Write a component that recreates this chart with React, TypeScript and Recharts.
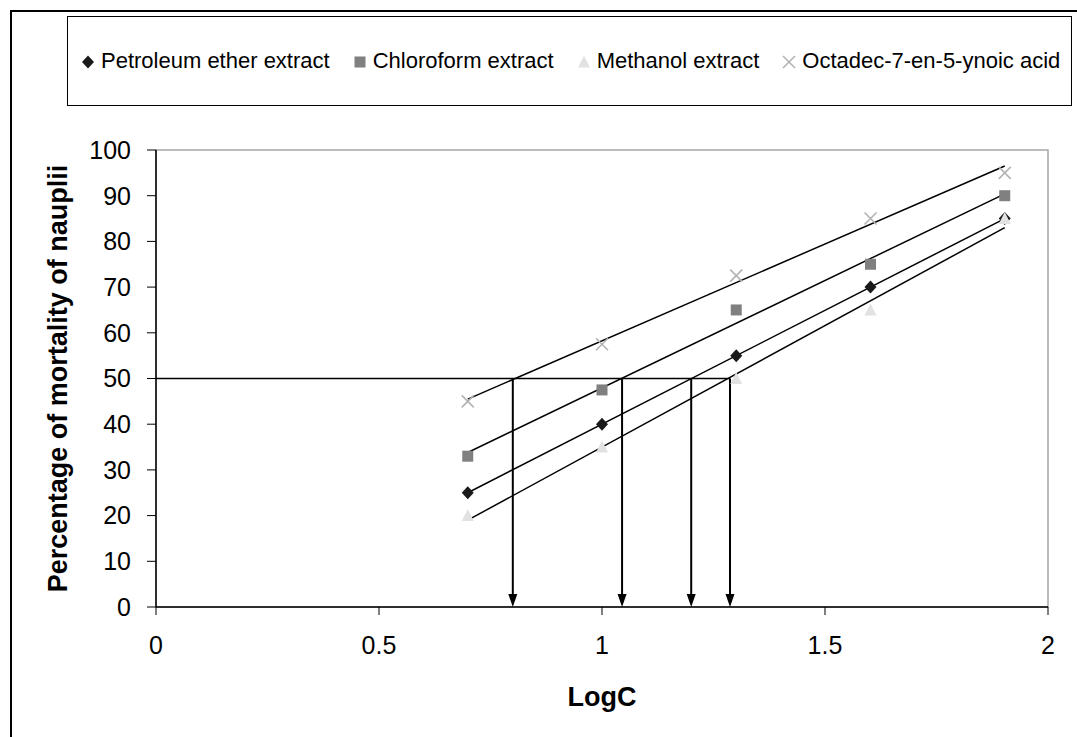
import React from 'react';
import {
  ComposedChart,
  Scatter,
  Line,
  XAxis,
  YAxis,
  ReferenceLine,
  ReferenceArea,
  Label,
} from 'recharts';

// log10 of the concentrations (5, 10, 20, 40, 80)
const logC = [0.699, 1.0, 1.301, 1.602, 1.903];

const petroleumEther = [25, 40, 55, 70, 85];
const chloroform = [33, 47.5, 65, 75, 90];
const methanol = [20, 35, 50, 65, 85];
const octadecenynoic = [45, 57.5, 72.5, 85, 95];

// LC50 read-offs (where each trend line crosses 50 %)
const lc50LogC = [0.8, 1.045, 1.2, 1.287];

const xTicks = [0, 0.5, 1, 1.5, 2];
const yTicks = [0, 10, 20, 30, 40, 50, 60, 70, 80, 90, 100];

const FONT = '"Liberation Sans", Arial, sans-serif';

const Diamond = ({ cx, cy }: any) => (
  <polygon
    points={`${cx},${cy - 6.5} ${cx + 6},${cy} ${cx},${cy + 6.5} ${cx - 6},${cy}`}
    fill="#1a1a1a"
  />
);
const Square = ({ cx, cy }: any) => (
  <rect x={cx - 5.5} y={cy - 5.5} width={11} height={11} fill="#808080" />
);
const Triangle = ({ cx, cy }: any) => (
  <polygon
    points={`${cx},${cy - 6.5} ${cx + 6},${cy + 5.5} ${cx - 6},${cy + 5.5}`}
    fill="#e2e2e2"
  />
);
const Cross = ({ cx, cy }: any) => (
  <g stroke="#b3b3b3" strokeWidth={1.6}>
    <line x1={cx - 6} y1={cy - 6} x2={cx + 6} y2={cy + 6} />
    <line x1={cx - 6} y1={cy + 6} x2={cx + 6} y2={cy - 6} />
  </g>
);

const series = [
  { name: 'Petroleum ether extract', values: petroleumEther, shape: Diamond },
  { name: 'Chloroform extract', values: chloroform, shape: Square },
  { name: 'Methanol extract', values: methanol, shape: Triangle },
  { name: 'Octadec-7-en-5-ynoic acid', values: octadecenynoic, shape: Cross },
];

// least squares line over the points, drawn from first to last x
function trend(ys: number[]) {
  const n = logC.length;
  const mx = logC.reduce((a, b) => a + b, 0) / n;
  const my = ys.reduce((a, b) => a + b, 0) / n;
  let sxy = 0;
  let sxx = 0;
  logC.forEach((x, i) => {
    sxy += (x - mx) * (ys[i] - my);
    sxx += (x - mx) * (x - mx);
  });
  const slope = sxy / sxx;
  const b = my - slope * mx;
  return [logC[0], logC[n - 1]].map((x) => ({ x, y: b + slope * x }));
}

const Arrow = (p: any) => {
  const { x1, y1, x2, y2 } = p;
  return (
    <g>
      <line x1={x1} y1={y1} x2={x2} y2={y2 - 10} stroke="#000" strokeWidth={2} />
      <polygon points={`${x2 - 4.5},${y2 - 13} ${x2 + 4.5},${y2 - 13} ${x2},${y2}`} fill="#000" />
    </g>
  );
};

function LegendBox() {
  return (
    <div
      style={{
        position: 'absolute',
        left: 67,
        top: 16,
        width: 1005,
        height: 90,
        border: '1px solid #000',
        display: 'flex',
        alignItems: 'center',
        paddingLeft: 13,
        boxSizing: 'border-box',
        fontFamily: FONT,
        fontSize: 22,
        color: '#000',
        whiteSpace: 'nowrap',
      }}
    >
      {series.map((s) => {
        const S = s.shape;
        return (
          <div key={s.name} style={{ display: 'flex', alignItems: 'center', marginRight: 23 }}>
            <svg width={14} height={16} style={{ marginRight: 6 }}>
              <S cx={7} cy={9} />
            </svg>
            <span>{s.name}</span>
          </div>
        );
      })}
    </div>
  );
}

export default function App() {
  return (
    <div
      style={{
        position: 'absolute',
        left: 0,
        top: 0,
        width: 1077,
        height: 737,
        overflow: 'hidden',
        background: '#fff',
      }}
    >
      <div
        style={{
          position: 'absolute',
          left: 10,
          top: 10,
          width: 1200,
          height: 900,
          border: '2px solid #000',
        }}
      />
      <LegendBox />
      <div style={{ position: 'absolute', left: 0, top: 0 }}>
        <ComposedChart
          width={1077}
          height={737}
          margin={{ top: 150, right: 29, bottom: 30, left: 0 }}
        >
          <ReferenceArea
            x1={0}
            x2={2}
            y1={0}
            y2={100}
            fill="none"
            stroke="#a6a6a6"
            strokeWidth={1.5}
          />
          <XAxis
            type="number"
            dataKey="x"
            domain={[0, 2]}
            ticks={xTicks}
            height={100}
            tickSize={8}
            tickMargin={21}
            axisLine={{ stroke: '#000', strokeWidth: 1.5 }}
            tickLine={{ stroke: '#000', strokeWidth: 1 }}
            tick={{ fill: '#000', fontSize: 25, fontFamily: FONT }}
          >
            <Label
              content={({ viewBox }: any) => (
                <text
                  x={viewBox.x + viewBox.width / 2}
                  y={706}
                  textAnchor="middle"
                  fontFamily={FONT}
                  fontSize={27}
                  fontWeight="bold"
                  fill="#000"
                >
                  LogC
                </text>
              )}
            />
          </XAxis>
          <YAxis
            type="number"
            domain={[0, 100]}
            ticks={yTicks}
            width={156}
            tickSize={9}
            tickMargin={16}
            axisLine={{ stroke: '#000', strokeWidth: 1.5 }}
            tickLine={{ stroke: '#000', strokeWidth: 1 }}
            tick={{ fill: '#000', fontSize: 25, fontFamily: FONT }}
          >
            <Label
              content={({ viewBox }: any) => {
                const cx = 67;
                const cy = viewBox.y + viewBox.height / 2;
                return (
                  <text
                    x={cx}
                    y={cy}
                    transform={`rotate(-90, ${cx}, ${cy})`}
                    textAnchor="middle"
                    fontFamily={FONT}
                    fontSize={27}
                    fontWeight="bold"
                    fill="#000"
                  >
                    Percentage of mortality of nauplii
                  </text>
                );
              }}
            />
          </YAxis>
          <ReferenceLine
            segment={[
              { x: 0, y: 50 },
              { x: lc50LogC[lc50LogC.length - 1], y: 50 },
            ]}
            stroke="#000"
            strokeWidth={1.5}
          />
          {lc50LogC.map((v) => (
            <ReferenceLine
              key={v}
              segment={[
                { x: v, y: 50 },
                { x: v, y: 0 },
              ]}
              shape={Arrow}
            />
          ))}
          {series.map((s) => (
            <Scatter
              key={s.name}
              name={s.name}
              data={logC.map((x, i) => ({ x, y: s.values[i] }))}
              dataKey="y"
              shape={s.shape}
              isAnimationActive={false}
            />
          ))}
          {series.map((s) => (
            <Line
              key={'t' + s.name}
              data={trend(s.values)}
              dataKey="y"
              type="linear"
              dot={false}
              activeDot={false}
              stroke="#000"
              strokeWidth={1.5}
              isAnimationActive={false}
            />
          ))}
        </ComposedChart>
      </div>
    </div>
  );
}
